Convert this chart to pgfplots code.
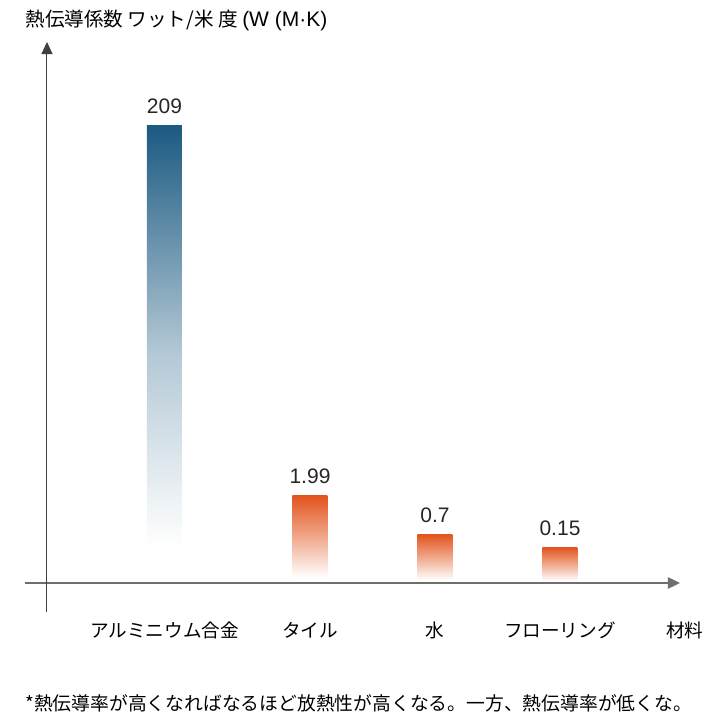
\documentclass[border=0pt]{standalone}
\usepackage{pgfplots}
\pgfplotsset{compat=1.18}
\usetikzlibrary{arrows.meta}
\usepackage{fontspec}
\setmainfont{Noto Sans CJK JP}
\newfontfamily\lat{Liberation Sans}
\definecolor{albl}{HTML}{1B5A82}
\definecolor{tor}{HTML}{E2531B}
\definecolor{axg}{HTML}{6E6E6E}
\pgfdeclareverticalshading{alsh}{100bp}{color(0bp)=(white); color(29bp)=(white); color(50bp)=(albl!33!white); color(63bp)=(albl!68!white); color(75bp)=(albl); color(100bp)=(albl)}
\pgfdeclareverticalshading{orsh}{100bp}{color(0bp)=(white); color(28bp)=(white); color(50bp)=(tor!48!white); color(75bp)=(tor); color(100bp)=(tor)}
\begin{document}
\begin{tikzpicture}
\begin{axis}[
  at={(0,0)}, anchor=south west,
  scale only axis, width=360pt, height=360pt,
  xmin=-47, xmax=673, ymin=-137, ymax=583,
  axis x line=middle, axis y line=none,
  axis line style={draw=none},
  major tick length=0pt,
  xtick={117.5,263,388,513},
  xticklabels={アルミニウム合金,タイル,水,フローリング},
  xticklabel style={anchor=center, yshift=-23.5pt, font=\fontsize{9.3}{11}\selectfont, text=black},
  ytick=\empty,
  clip=false,
  ybar, bar shift=0pt, bar width=35,
  point meta=explicit symbolic,
  nodes near coords,
  nodes near coords style={anchor=south, inner sep=0pt, yshift=5.5pt, font=\lat\fontsize{10.5}{12}\selectfont, text=black!85},
]
\path (rel axis cs:0,0) rectangle (rel axis cs:1,1);
\addplot[draw=none, shading=alsh] coordinates {(117.5,458)[209]};
\addplot[draw=none, shading=orsh] coordinates {(263,88)[1.99]};
\addplot[draw=none, shading=orsh] coordinates {(388,49)[0.7]};
\addplot[draw=none, shading=orsh] coordinates {(513,36)[0.15]};
\draw[axg, line width=1.2pt, -{Triangle[length=6pt,width=5.5pt]}] (axis cs:-22,0) -- (axis cs:633,0);
\draw[black!75, line width=0.5pt, -{Triangle[length=6pt,width=5.5pt]}] (axis cs:0,-29) -- (axis cs:0,541);
\node[anchor=west, inner sep=0pt, font=\fontsize{9.8}{11}\selectfont] at (axis cs:-22,563) {熱伝導係数 ワット/米 度 {\lat\fontsize{10.5}{12}\selectfont(W (M\textperiodcentered K)}};
\node[anchor=center, inner sep=0pt, font=\fontsize{9.3}{11}\selectfont] at (axis cs:638,-47) {材料};
\node[anchor=west, inner sep=0pt, font=\fontsize{9.4}{11}\selectfont] at (axis cs:-22,-120) {*熱伝導率が高くなればなるほど放熱性が高くなる。一方、熱伝導率が低くな。};
\end{axis}
\end{tikzpicture}
\end{document}
